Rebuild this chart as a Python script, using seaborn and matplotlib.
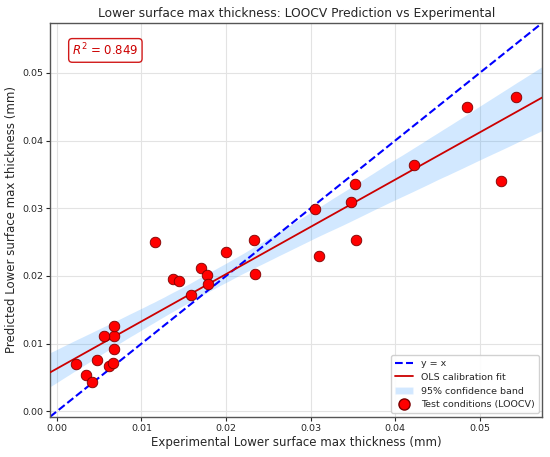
import numpy as np
import pandas as pd
import matplotlib
matplotlib.use('Agg')
import matplotlib.pyplot as plt
import seaborn as sns
from matplotlib.lines import Line2D
from matplotlib.patches import Patch

# valori (mm)
experimental = [0.00226, 0.00344, 0.00415, 0.00475, 0.00613, 0.00664, 0.00672, 0.00676,
                0.00562, 0.00672, 0.01166, 0.01374, 0.01441, 0.01592, 0.01702, 0.01773,
                0.01788, 0.02001, 0.02329, 0.02349, 0.03051, 0.03102, 0.03481, 0.03524,
                0.03536, 0.04219, 0.04846, 0.05252, 0.05426]
predicted = [0.00704, 0.00541, 0.00429, 0.00754, 0.00674, 0.00714, 0.00920, 0.01108,
             0.01108, 0.01255, 0.02503, 0.01953, 0.01923, 0.01721, 0.02115, 0.02012,
             0.01875, 0.02361, 0.02533, 0.02031, 0.02985, 0.02292, 0.03099, 0.03359,
             0.02528, 0.03639, 0.04494, 0.03398, 0.04647]
r2_text = '$R^2$ = 0.849'
lims = [-0.0008, 0.0574]

df = pd.DataFrame({'exp': experimental, 'pred': predicted})

sns.set_style('ticks')
fig, ax = plt.subplots(figsize=(5.5, 4.57), dpi=100)
fig.subplots_adjust(left=0.091, right=0.986, top=0.95, bottom=0.088)
ax.set_xlim(lims)
ax.set_ylim(lims)
ax.grid(True, color='#e3e3e3', linewidth=0.8)
ax.set_axisbelow(True)

ax.plot(lims, lims, '--', color='blue', linewidth=1.5, zorder=2)

sns.regplot(data=df, x='exp', y='pred', ax=ax, scatter=False, truncate=False,
            ci=95, n_boot=2000, seed=1, color='dodgerblue',
            line_kws={'color': '#cc0000', 'linewidth': 1.3, 'zorder': 3})
for coll in ax.collections:
    coll.set_facecolor('dodgerblue')
    coll.set_edgecolor('none')
    coll.set_alpha(0.2)

sns.scatterplot(data=df, x='exp', y='pred', ax=ax, color='red', edgecolor='#7a0000',
                linewidth=0.6, s=58, zorder=4)

ax.set_xlim(lims)
ax.set_ylim(lims)
ax.set_xlabel('Experimental Lower surface max thickness (mm)', fontsize=8.5, labelpad=2)
ax.set_ylabel('Predicted Lower surface max thickness (mm)', fontsize=8.5, labelpad=3)
ax.set_title('Lower surface max thickness: LOOCV Prediction vs Experimental', fontsize=8.8, pad=4)
ax.tick_params(labelsize=6.8, length=3, width=0.8, pad=2)
for sp in ax.spines.values():
    sp.set_color('#555555')
    sp.set_linewidth(1.0)

ax.text(0.045, 0.93, r2_text, transform=ax.transAxes, color='#cc0000', fontsize=8.5,
        va='center', ha='left',
        bbox=dict(boxstyle='round,pad=0.3', facecolor='white', edgecolor='#cc0000', alpha=0.9))

handles = [
    Line2D([], [], color='blue', linestyle='--', linewidth=1.5),
    Line2D([], [], color='#cc0000', linewidth=1.3),
    Patch(facecolor='dodgerblue', alpha=0.2),
    Line2D([], [], marker='o', linestyle='', markerfacecolor='red',
           markeredgecolor='#7a0000', markersize=8),
]
labels = ['y = x', 'OLS calibration fit', '95% confidence band', 'Test conditions (LOOCV)']
ax.legend(handles, labels, loc='lower right', fontsize=6.8, framealpha=0.9,
          borderaxespad=0.4)

fig.savefig('out.png', dpi=100)
